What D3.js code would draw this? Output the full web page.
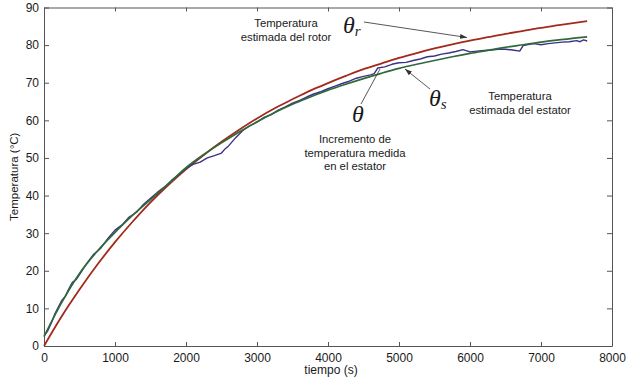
<!DOCTYPE html>
<html><head><meta charset="utf-8">
<script src="https://cdn.jsdelivr.net/npm/d3@7"></script>
<style>
html,body{margin:0;padding:0;background:#fff;}
svg{display:block;}
text{font-family:"Liberation Sans",Arial,Helvetica,sans-serif;fill:#1a1a1a;}
.theta{font-family:"Liberation Serif","Times New Roman",serif;font-style:italic;}
</style>
</head><body>
<svg id="chart" width="632" height="379"></svg>
<script>
// ---- data ----
const xTicks = [0,1000,2000,3000,4000,5000,6000,7000,8000];
const yTicks = [0,10,20,30,40,50,60,70,80,90];

// rotor estimated temperature (red)
const rotorT = [0,250,500,750,1000,1250,1500,1750,2000,2250,2500,2750,3000,3250,3500,3750,4000,4250,4500,4750,5000,5250,5500,5750,6000,6250,6500,6750,7000,7250,7500,7650];
const rotorV = [0,7.9,15.0,21.6,27.6,33.1,38.2,42.8,47.0,50.8,54.3,57.5,60.5,63.2,65.6,67.9,69.9,71.8,73.6,75.1,76.6,77.9,79.1,80.2,81.2,82.1,83.0,83.8,84.6,85.3,86.0,86.4];

// stator estimated temperature (green)
const statorT = [0,250,500,750,1000,1250,1500,1750,2000,2250,2500,2750,3000,3250,3500,3750,4000,4250,4500,4750,5000,5250,5500,5750,6000,6250,6500,6750,7000,7250,7500,7650];
const statorV = [2.5,11.6,19.3,25.2,30.2,34.8,38.9,43.1,47.4,50.9,54.0,56.9,59.6,62.1,64.3,66.2,68.0,69.6,71.1,72.5,73.8,74.9,75.9,76.9,77.8,78.6,79.4,80.1,80.8,81.4,81.9,82.2];

// measured stator temperature rise (blue)
const measT = [0,50,100,150,200,250,300,350,400,450,500,600,700,800,900,1000,1100,1200,1300,1400,1500,1600,1700,1800,1900,2000,2100,2200,2300,2400,2500,2550,2600,2700,2800,2900,3000,3100,3200,3300,3400,3500,3600,3700,3800,3900,4000,4100,4200,4300,4400,4500,4600,4650,4700,4800,4900,5000,5100,5200,5300,5400,5500,5600,5700,5800,5900,6000,6100,6200,6300,6400,6500,6600,6700,6750,6800,6900,7000,7100,7200,7300,7400,7500,7550,7600,7650];
const measV = [2.8,3.9,6.0,8.4,10.3,12.1,13.2,15.2,16.9,17.6,19.0,21.9,24.4,26.0,28.6,30.8,32.2,34.3,35.5,37.6,39.3,40.9,42.3,44.1,45.6,47.2,48.3,48.9,50.0,50.6,51.3,52.4,53.2,55.4,57.3,58.6,59.5,60.8,61.5,62.7,63.6,64.6,65.3,66.2,67.0,67.6,68.4,69.1,69.8,70.4,71.2,71.7,72.1,72.4,73.9,74.2,74.9,75.3,75.4,75.9,76.3,76.9,77.1,77.6,77.9,78.3,78.8,78.2,78.4,78.6,78.7,78.9,78.9,78.7,78.4,79.9,80.1,80.4,80.1,80.4,80.6,80.8,80.9,81.2,80.9,81.4,81.1];

const yLabel = "Temperatura (°C)";
const xLabel = "tiempo (s)";

// ---- drawing ----
const svg = d3.select("#chart");
const x = d3.scaleLinear().domain([0,8000]).range([44,612]);
const y = d3.scaleLinear().domain([0,90]).range([346,7.5]);

const axisColor = "#555";
function styleAxis(g, showText){
  g.select(".domain").attr("stroke", axisColor).attr("stroke-width",1);
  g.selectAll(".tick line").attr("stroke", axisColor);
  g.selectAll(".tick text").attr("font-size", 12).attr("fill","#1a1a1a")
   .attr("font-family",'"Liberation Sans",Arial,sans-serif');
  if(!showText) g.selectAll(".tick text").remove();
}

svg.append("g").attr("transform",`translate(0,${y(0)})`)
  .call(d3.axisBottom(x).tickValues(xTicks).tickSizeInner(-4).tickSizeOuter(0).tickPadding(7).tickFormat(d3.format("d")))
  .call(g=>styleAxis(g,true));
svg.append("g").attr("transform",`translate(0,${y(90)})`)
  .call(d3.axisTop(x).tickValues(xTicks).tickSizeInner(-4).tickSizeOuter(0))
  .call(g=>styleAxis(g,false));
svg.append("g").attr("transform",`translate(${x(0)},0)`)
  .call(d3.axisLeft(y).tickValues(yTicks).tickSizeInner(-5).tickSizeOuter(0).tickPadding(5))
  .call(g=>styleAxis(g,true));
svg.append("g").attr("transform",`translate(${x(8000)},0)`)
  .call(d3.axisRight(y).tickValues(yTicks).tickSizeInner(-5).tickSizeOuter(0))
  .call(g=>styleAxis(g,false));

const mk = (T,V)=>T.map((t,i)=>[t,V[i]]);
const smooth = d3.line().x(d=>x(d[0])).y(d=>y(d[1])).curve(d3.curveMonotoneX);
const straight = d3.line().x(d=>x(d[0])).y(d=>y(d[1]));

svg.append("path").attr("d", smooth(mk(rotorT,rotorV)))
  .attr("fill","none").attr("stroke","#a3291c").attr("stroke-width",1.8);
svg.append("path").attr("d", straight(mk(measT,measV)))
  .attr("fill","none").attr("stroke","#3b3088").attr("stroke-width",1.4).attr("stroke-linejoin","round");
svg.append("path").attr("d", smooth(mk(statorT,statorV)))
  .attr("fill","none").attr("stroke","#2f6a3a").attr("stroke-width",1.7);

// axis labels
svg.append("text").attr("x", 331).attr("y", 374).attr("text-anchor","middle")
  .attr("font-size",12).text(xLabel);
svg.append("text").attr("transform",`translate(18,${y(45)}) rotate(-90)`).attr("text-anchor","middle")
  .attr("font-size",11.5).text(yLabel);

// annotations
svg.append("defs").append("marker").attr("id","arr").attr("viewBox","0 0 10 10")
  .attr("refX",10).attr("refY",5).attr("markerWidth",7).attr("markerHeight",7)
  .attr("orient","auto-start-reverse").attr("markerUnits","userSpaceOnUse")
  .append("path").attr("d","M0,1.5 L10,5 L0,8.5 Z").attr("fill","#333");

function multiline(lines, cx, y0, dy){
  const t = svg.append("text").attr("text-anchor","middle").attr("font-size",11.3);
  lines.forEach((l,i)=>t.append("tspan").attr("x",cx).attr("y",y0+i*dy).text(l));
}
multiline(["Temperatura","estimada del rotor"], 286, 27, 13.5);
multiline(["Temperatura","estimada del estator"], 520, 100, 13.5);
multiline(["Incremento de","temperatura medida","en el estator"], 355, 143, 13.5);

// theta labels
const tr = svg.append("text").attr("class","theta").attr("x",343).attr("y",33).attr("font-size",24);
tr.append("tspan").text("θ");
tr.append("tspan").attr("font-size",15).attr("dy",3).text("r");
const ts = svg.append("text").attr("class","theta").attr("x",429).attr("y",106).attr("font-size",24);
ts.append("tspan").text("θ");
ts.append("tspan").attr("font-size",15).attr("dy",3).text("s");
svg.append("text").attr("class","theta").attr("x",352).attr("y",122).attr("font-size",24).text("θ");

svg.append("line").attr("x1",364).attr("y1",22).attr("x2",467).attr("y2",37.5)
  .attr("stroke","#444").attr("stroke-width",0.9).attr("marker-end","url(#arr)");
svg.append("line").attr("x1",430).attr("y1",89).attr("x2",405).attr("y2",69)
  .attr("stroke","#444").attr("stroke-width",0.9).attr("marker-end","url(#arr)");
svg.append("line").attr("x1",361).attr("y1",104).attr("x2",380).attr("y2",69)
  .attr("stroke","#444").attr("stroke-width",0.9);
</script>
</body></html>
